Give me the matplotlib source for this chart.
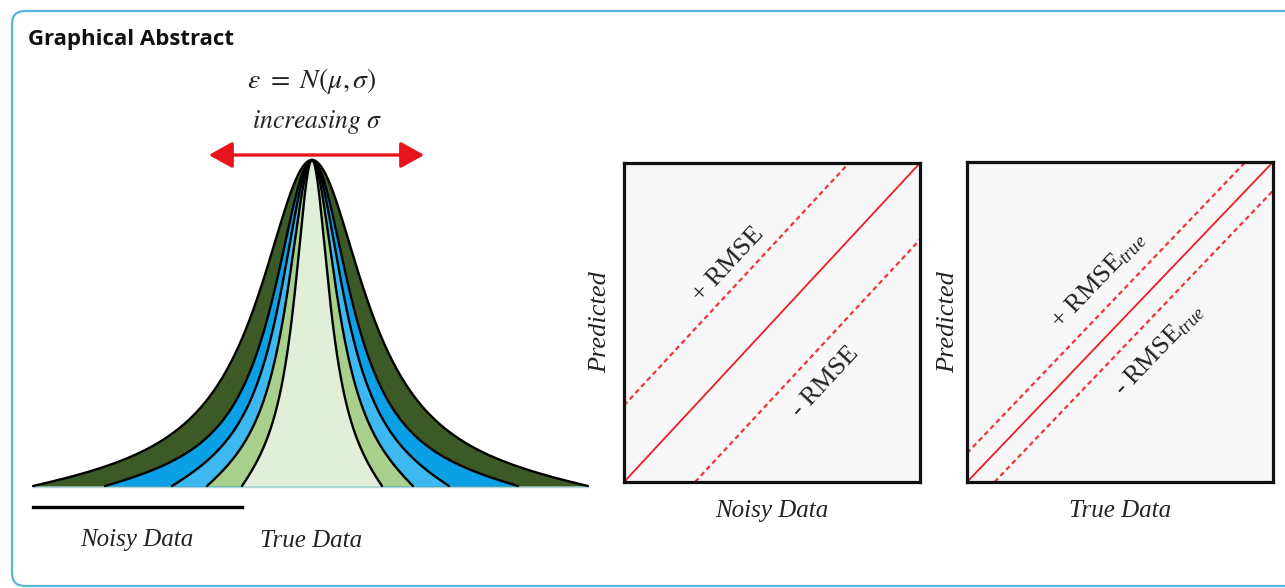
import numpy as np
import matplotlib
matplotlib.use("Agg")
import matplotlib.pyplot as plt
from matplotlib.patches import FancyBboxPatch, FancyArrowPatch

plt.rcParams['mathtext.fontset'] = 'custom'
plt.rcParams['mathtext.rm'] = 'Liberation Serif'
plt.rcParams['mathtext.it'] = 'Liberation Serif:italic'

# ---------------- data ----------------
# distribution layers (outer -> inner)
layer_names = ["noise 4", "noise 3", "noise 2", "noise 1", "true"]
half_width_left = [279, 207, 140, 105, 70]     # base half-widths (px), left side
half_width_right = [276, 206, 137, 101, 70]    # base half-widths (px), right side
hwhm = [64, 46, 38, 30, 21]                    # half width at half maximum (px)
layer_colors = ["#3c5a25", "#0b9fe6", "#3db8f1", "#a8d08c", "#e1eed8"]

# parity panels: band offset (fraction of axis range)
panel_offsets = [0.24, 0.09]
panel_xlabels = ["Noisy Data", "True Data"]
panel_ylabel = "Predicted"
upper_labels = ["+ RMSE", r"+ RMSE$_{\mathit{true}}$"]
lower_labels = ["- RMSE", r"- RMSE$_{\mathit{true}}$"]

W, H = 1285, 588
fig = plt.figure(figsize=(W / 100, H / 100), dpi=100)
bg = fig.add_axes([0, 0, 1, 1])
bg.set_xlim(0, W)
bg.set_ylim(H, 0)
bg.axis("off")

# border
bg.add_patch(FancyBboxPatch((12, 11), 1300, 575, boxstyle="round,pad=0,rounding_size=13",
                            fc="none", ec="#55b6da", lw=1.6, zorder=1))
bg.text(28, 40, "Graphical Abstract", fontsize=16, fontweight="bold",
        family="Open Sans", va="center", ha="left", color="#111111")

# bell curves
peak_x, base_y, peak_h = 312, 486, 326


def profile(dx, a, g):
    La = 1.0 / (1 + (a / g) ** 2)
    return 1.0 / (1 + (dx / g) ** 2) - La * (dx / a) ** 2


bg.plot([33, 588], [base_y + 0.5, base_y + 0.5], color="#a9d6dc", lw=1, zorder=2)
curves = []
for aL, aR, g in zip(half_width_left, half_width_right, hwhm):
    xl = np.linspace(-aL, 0, 400)
    xr = np.linspace(0, aR, 400)[1:]
    yl = profile(xl, aL, g)
    yr = profile(xr, aR, g)
    xs = np.concatenate([xl, xr]) + peak_x
    ys = base_y - peak_h * np.clip(np.concatenate([yl, yr]), 0, None)
    curves.append((xs, ys))

for i, ((xs, ys), col) in enumerate(zip(curves, layer_colors)):
    bg.fill_between(xs, ys, base_y, color=col, lw=0, zorder=3 + i)
for xs, ys in curves:
    bg.plot(xs, ys, color="black", lw=1.7, zorder=10, solid_capstyle="round")

# arrow and formula
bg.add_patch(FancyArrowPatch((206, 155), (427, 155), arrowstyle="<|-|>,head_length=9,head_width=5",
                             color="#e8141c", lw=2.4, mutation_scale=1.6, zorder=5))
bg.text(312, 81, r"$\varepsilon\ =\ N(\mu,\sigma)$", fontsize=20, ha="center", va="center",
        math_fontfamily="stix", color="#222222")
bg.text(317, 122, r"$\mathit{increasing}\ \sigma$", fontsize=18.5, ha="center", va="center",
        math_fontfamily="stix", color="#222222")

# under-line and labels
bg.plot([33, 242], [507, 507], color="black", lw=2.4, zorder=5)
bg.text(137, 540, "Noisy Data", fontsize=18, style="italic", family="Liberation Serif",
        ha="center", va="center", color="#222222")
bg.text(311, 541, "True Data", fontsize=18, style="italic", family="Liberation Serif",
        ha="center", va="center", color="#222222")

# parity panels
boxes = [(624, 163, 920, 482), (967, 162, 1273, 482)]
ylabel_x = [600, 948]
up_pos = [(0.351, 0.68), (0.428, 0.631)]
lo_pos = [(0.679, 0.313), (0.627, 0.4125)]
for k, (x0, y0, x1, y1) in enumerate(boxes):
    ax = fig.add_axes([x0 / W, 1 - y1 / H, (x1 - x0) / W, (y1 - y0) / H])
    ax.set_facecolor("#f7f7f7")
    ax.set_xlim(0, 1)
    ax.set_ylim(0, 1)
    ax.set_xticks([])
    ax.set_yticks([])
    for s in ax.spines.values():
        s.set_linewidth(2.3)
        s.set_color("#111111")
    d = panel_offsets[k]
    t = np.array([0, 1])
    ax.plot(t, t, color="#ee1d24", lw=1.3)
    ax.plot([0, 1 - d], [d, 1], color="#f0343a", lw=1.6, ls=(0, (2.2, 1.6)))
    ax.plot([d, 1], [0, 1 - d], color="#f0343a", lw=1.6, ls=(0, (2.2, 1.6)))
    ang = np.degrees(np.arctan((y1 - y0) / (x1 - x0)))
    ax.text(*up_pos[k], upper_labels[k], rotation=ang, rotation_mode="anchor",
            ha="center", va="center", fontsize=19, family="Liberation Serif",
            transform=ax.transAxes, color="#222222")
    ax.text(*lo_pos[k], lower_labels[k], rotation=ang, rotation_mode="anchor",
            ha="center", va="center", fontsize=19, family="Liberation Serif",
            transform=ax.transAxes, color="#222222")
    bg.text((x0 + x1) / 2, 511, panel_xlabels[k], fontsize=18, style="italic",
            family="Liberation Serif", ha="center", va="center", color="#222222")
    bg.text(ylabel_x[k], (y0 + y1) / 2, panel_ylabel, fontsize=19, style="italic",
            family="Liberation Serif", ha="center", va="center", rotation=90, color="#222222")

fig.savefig("out.png", dpi=100)
